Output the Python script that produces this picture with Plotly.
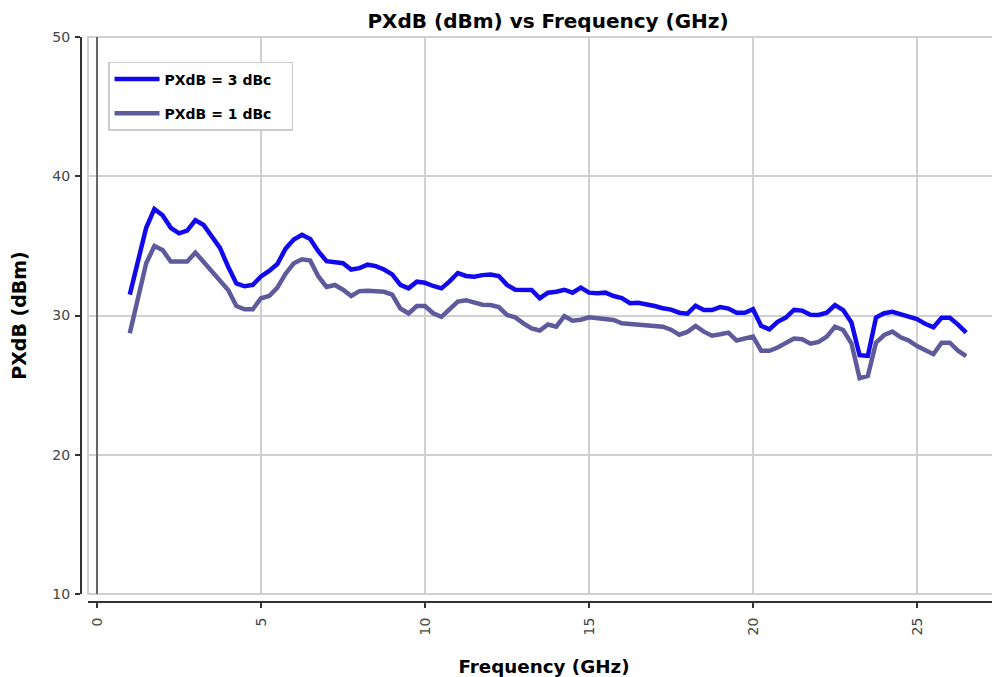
import plotly.graph_objects as go

# Frequency (GHz)
freq = [1.0, 1.5, 1.75, 2.0, 2.25, 2.5, 2.75, 3.0, 3.25, 3.5, 3.75, 4.0, 4.25, 4.5, 4.75,
        5.0, 5.25, 5.5, 5.75, 6.0, 6.25, 6.5, 6.75, 7.0, 7.25, 7.5, 7.75, 8.0, 8.25, 8.5, 8.75,
        9.0, 9.25, 9.5, 9.75, 10.0, 10.25, 10.5, 10.75, 11.0, 11.25, 11.5, 11.75, 12.0, 12.25,
        12.5, 12.75, 13.0, 13.25, 13.5, 13.75, 14.0, 14.25, 14.5, 14.75, 15.0, 15.25, 15.5,
        15.75, 16.0, 16.25, 16.5, 16.75, 17.0, 17.25, 17.5, 17.75, 18.0, 18.25, 18.5, 18.75,
        19.0, 19.25, 19.5, 19.75, 20.0, 20.25, 20.5, 20.75, 21.0, 21.25, 21.5, 21.75, 22.0,
        22.25, 22.5, 22.75, 23.0, 23.25, 23.5, 23.75, 24.0, 24.25, 24.5, 24.75, 25.0, 25.25,
        25.5, 25.75, 26.0, 26.25, 26.5]

# PXdB = 3 dBc (dBm)
p3db = [31.5, 36.3, 37.65, 37.2, 36.3, 35.9, 36.1, 36.85, 36.5, 35.65, 34.85, 33.5, 32.3, 32.1, 32.2,
        32.8, 33.2, 33.7, 34.8, 35.45, 35.8, 35.5, 34.6, 33.9, 33.8, 33.75, 33.3, 33.4, 33.65, 33.55, 33.3,
        32.95, 32.2, 31.95, 32.43, 32.35, 32.12, 31.95, 32.45, 33.05, 32.84, 32.79, 32.9, 32.95, 32.84,
        32.2, 31.85, 31.83, 31.83, 31.24, 31.64, 31.71, 31.85, 31.64, 32.0, 31.64, 31.59, 31.64,
        31.4, 31.25, 30.88, 30.92, 30.83, 30.68, 30.52, 30.42, 30.2, 30.13, 30.7, 30.39, 30.39,
        30.6, 30.5, 30.2, 30.2, 30.45, 29.25, 29.0, 29.55, 29.85, 30.4, 30.35, 30.05, 30.04,
        30.2, 30.75, 30.39, 29.5, 27.15, 27.1, 29.85, 30.16, 30.27, 30.1, 29.95, 29.75, 29.4,
        29.15, 29.84, 29.84, 29.35, 28.77]

# PXdB = 1 dBc (dBm)
p1db = [28.72, 33.75, 34.99, 34.7, 33.87, 33.87, 33.87, 34.52, 33.87, 33.15, 32.55, 31.83, 30.68, 30.45, 30.45,
        31.24, 31.4, 32.0, 33.0, 33.75, 34.04, 33.94, 32.8, 32.05, 32.19, 31.85, 31.4, 31.75, 31.78, 31.78, 31.7,
        31.5, 30.5, 30.15, 30.68, 30.68, 30.16, 29.9, 30.5, 31.0, 31.1, 30.95, 30.77, 30.75, 30.6,
        30.04, 29.87, 29.44, 29.08, 28.92, 29.35, 29.2, 29.95, 29.63, 29.7, 29.87, 29.8, 29.8,
        29.68, 29.44, 29.39, 29.39, 29.32, 29.32, 29.2, 28.98, 28.62, 28.82, 29.25, 28.84, 28.55,
        28.65, 28.77, 28.2, 28.36, 28.48, 27.47, 27.47, 27.7, 28.02, 28.35, 28.3, 27.98, 28.1,
        28.48, 29.2, 28.96, 28.0, 25.5, 25.66, 28.05, 28.6, 28.84, 28.43, 28.2, 27.81, 27.5,
        27.22, 28.05, 28.05, 27.47, 27.09]

x_ticks = [0, 5, 10, 15, 20, 25]
y_ticks = [10, 20, 30, 40, 50]

FONT = "DejaVu Sans"
W, H = 992, 669  # page body adds an 8px offset
PAD = "\u00a0" * 3  # extra room on the right of legend labels

fig = go.Figure()
fig.add_trace(go.Scatter(x=freq, y=p3db, mode="lines", name="PXdB = 3 dBc" + PAD,
                         line=dict(color="#1208ee", width=4.5), legendgroup="a"))
fig.add_trace(go.Scatter(x=freq, y=p1db, mode="lines", name="PXdB = 1 dBc" + PAD,
                         line=dict(color="#5e5a9c", width=4.5), legendgroup="b"))

# plot-area border (light grey)
fig.add_shape(type="rect", xref="x domain", yref="y domain", x0=0, x1=1, y0=0, y1=1,
              line=dict(color="#d0d0d0", width=2), layer="below")

fig.update_layout(
    width=W, height=H, autosize=False,
    margin=dict(l=62, r=0, t=29, b=75, pad=0),
    plot_bgcolor="white", paper_bgcolor="white",
    font=dict(family=FONT, color="#444", size=14),
    title=dict(text="<b>PXdB (dBm) vs Frequency (GHz)</b>", x=0.514, xref="paper",
               xanchor="center", y=1 - 13 / H, yref="container", yanchor="middle",
               font=dict(family=FONT, size=20, color="#000")),
    xaxis=dict(domain=[0.01935, 1], range=[-0.274, 27.53], anchor="free", position=0,
               showline=True, linecolor="#333", linewidth=2,
               ticks="outside", ticklen=5, tickwidth=2, tickcolor="#333",
               tickvals=x_ticks, ticktext=[str(v) for v in x_ticks], tickangle=-90,
               ticklabelstandoff=4,
               tickfont=dict(family=FONT, size=14, color="#444"),
               showgrid=True, gridcolor="#d0d0d0", gridwidth=2,
               zeroline=True, zerolinecolor="#666", zerolinewidth=2,
               title=dict(text="<b>Frequency (GHz)</b>", standoff=26,
                          font=dict(family=FONT, size=18.3, color="#000"))),
    yaxis=dict(domain=[0.01416, 1], range=[10, 50], anchor="free", position=0.01183,
               showline=True, linecolor="#333", linewidth=2,
               ticks="outside", ticklen=5, tickwidth=2, tickcolor="#333",
               tickvals=y_ticks, ticktext=[str(v) for v in y_ticks],
               ticklabelstandoff=2,
               tickfont=dict(family=FONT, size=14, color="#444"),
               showgrid=True, gridcolor="#d0d0d0", gridwidth=2,
               zeroline=False,
               title=dict(text="<b>PXdB (dBm)</b>", standoff=22,
                          font=dict(family=FONT, size=19, color="#000"))),
    legend=dict(x=0.0409, y=0.9558, xanchor="left", yanchor="top",
                bgcolor="white", bordercolor="#cccccc", borderwidth=1.5,
                font=dict(family=FONT, size=14, color="#000", weight="bold"),
                tracegroupgap=13, traceorder="grouped", itemwidth=45),
    showlegend=True,
)

fig.write_html("out.html")
